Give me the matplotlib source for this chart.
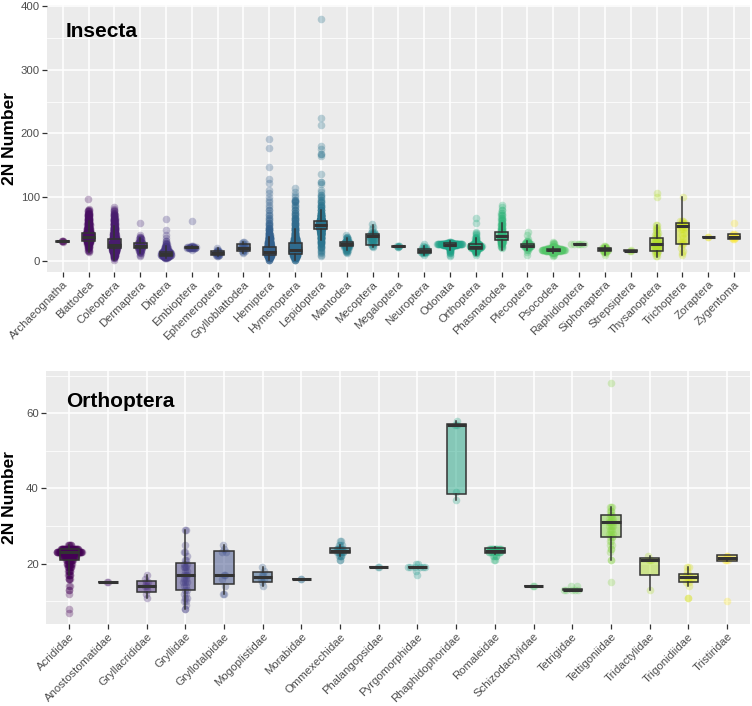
import numpy as np
import matplotlib
matplotlib.use("Agg")
import matplotlib.pyplot as plt

plt.rcParams['font.family'] = ['Liberation Sans', 'DejaVu Sans']

# ---------------- Insecta (orders) ----------------
insecta_orders = ["Archaeognatha", "Blattodea", "Coleoptera", "Dermaptera", "Diptera",
                  "Embioptera", "Ephemeroptera", "Grylloblattodea", "Hemiptera", "Hymenoptera",
                  "Lepidoptera", "Mantodea", "Mecoptera", "Megaloptera", "Neuroptera",
                  "Odonata", "Orthoptera", "Phasmatodea", "Plecoptera", "Psocodea",
                  "Raphidioptera", "Siphonaptera", "Strepsiptera", "Thysanoptera", "Trichoptera",
                  "Zoraptera", "Zygentoma"]

insecta_points = [
    {30: 1, 31: 3, 32: 1},
    {98: 1, 82: 1, 80: 2, 78: 3, 76: 3, 74: 4, 72: 4, 70: 5, 68: 4, 66: 5, 64: 5, 62: 5, 60: 6,
     58: 6, 56: 6, 54: 6, 52: 7, 50: 7, 48: 8, 46: 10, 44: 12, 42: 15, 40: 18, 38: 20, 36: 18,
     34: 15, 32: 12, 30: 8, 28: 6, 26: 5, 24: 4, 22: 3, 20: 3, 18: 2, 16: 2, 14: 1},
    {84: 1, 82: 1, 80: 1, 78: 2, 76: 2, 74: 2, 72: 3, 70: 3, 68: 3, 66: 4, 64: 4, 62: 5, 60: 5,
     58: 5, 56: 6, 54: 6, 52: 7, 50: 8, 48: 8, 46: 9, 44: 10, 42: 11, 40: 12, 38: 14, 36: 16,
     34: 18, 32: 20, 30: 22, 28: 25, 26: 28, 24: 30, 22: 30, 20: 28, 18: 22, 16: 18, 14: 14,
     12: 10, 10: 8, 8: 5, 6: 3, 4: 2, 2: 1},
    {60: 1, 40: 1, 38: 2, 36: 2, 34: 3, 32: 3, 30: 4, 28: 5, 26: 6, 24: 8, 22: 6, 20: 5, 18: 4,
     16: 3, 14: 2, 12: 2, 10: 1, 8: 1},
    {66: 1, 48: 1, 40: 1, 36: 1, 32: 2, 28: 2, 26: 3, 24: 4, 22: 5, 20: 7, 18: 8, 16: 10, 14: 14,
     12: 20, 10: 22, 8: 16, 6: 10, 4: 4},
    {62: 1, 24: 3, 22: 8, 21: 6, 20: 6, 18: 1},
    {20: 1, 18: 2, 16: 3, 14: 5, 12: 6, 10: 5, 8: 2},
    {30: 2, 28: 1, 26: 2, 24: 2, 22: 2, 20: 3, 18: 2, 16: 2, 14: 1, 12: 1},
    {192: 1, 178: 1, 148: 1, 128: 1, 122: 1, 112: 1, 106: 1, 100: 1, 96: 1, 92: 1, 88: 1, 84: 1,
     80: 2, 76: 1, 72: 2, 68: 2, 64: 2, 60: 3, 56: 3, 52: 4, 48: 5, 44: 6, 40: 8, 38: 8, 36: 10,
     34: 12, 32: 14, 30: 16, 28: 18, 26: 22, 24: 26, 22: 30, 20: 34, 18: 40, 16: 44, 14: 46,
     12: 40, 10: 32, 8: 22, 6: 14, 4: 8, 2: 4},
    {114: 1, 108: 1, 104: 1, 100: 1, 96: 2, 94: 2, 92: 2, 88: 2, 84: 2, 80: 3, 76: 3, 72: 3,
     68: 4, 64: 4, 60: 5, 56: 5, 52: 6, 48: 7, 44: 8, 40: 10, 36: 12, 34: 14, 32: 16, 30: 18,
     28: 20, 26: 24, 24: 28, 22: 30, 20: 32, 18: 34, 16: 34, 14: 32, 12: 28, 10: 24, 8: 18,
     6: 12, 4: 8, 2: 4},
    {380: 1, 224: 1, 214: 1, 180: 1, 176: 1, 168: 2, 164: 1, 137: 1, 124: 2, 120: 1, 112: 1,
     108: 1, 104: 2, 100: 2, 96: 2, 92: 3, 88: 3, 84: 4, 80: 5, 76: 6, 72: 8, 70: 9, 68: 10,
     66: 12, 64: 16, 62: 24, 60: 40, 58: 50, 56: 60, 54: 40, 52: 30, 50: 22, 48: 16, 46: 12,
     44: 10, 42: 8, 40: 7, 38: 6, 36: 5, 34: 4, 32: 4, 30: 3, 28: 3, 26: 2, 24: 2, 22: 2,
     20: 2, 18: 1, 16: 1, 14: 1, 12: 1, 10: 1, 8: 1},
    {40: 1, 38: 2, 36: 2, 34: 3, 32: 4, 30: 5, 28: 8, 26: 10, 24: 8, 22: 5, 20: 4, 18: 3,
     16: 2, 14: 2, 12: 1},
    {58: 1, 54: 1, 50: 1, 46: 2, 44: 2, 42: 3, 40: 4, 38: 4, 36: 3, 34: 2, 32: 2, 30: 2,
     28: 2, 26: 2, 24: 2, 22: 1},
    {24: 2, 23: 2, 22: 2},
    {26: 1, 24: 1, 22: 2, 20: 3, 18: 4, 16: 5, 14: 5, 12: 3, 10: 1},
    {30: 4, 28: 14, 27: 26, 26: 50, 25: 26, 24: 12, 22: 6, 20: 4, 18: 3, 16: 2, 14: 2, 12: 2,
     10: 1, 8: 1},
    {68: 1, 60: 1, 46: 1, 44: 1, 42: 1, 40: 1, 38: 2, 36: 2, 34: 3, 32: 3, 30: 4, 28: 6,
     26: 10, 25: 10, 24: 14, 23: 14, 22: 14, 21: 10, 20: 8, 18: 5, 16: 4, 14: 3, 12: 2, 10: 1},
    {88: 1, 84: 1, 80: 2, 76: 2, 72: 3, 68: 3, 64: 4, 60: 4, 56: 5, 52: 5, 48: 6, 44: 8,
     40: 10, 38: 10, 36: 10, 34: 8, 32: 6, 30: 5, 28: 4, 26: 3, 24: 2, 22: 2, 20: 1},
    {46: 1, 40: 1, 34: 1, 32: 2, 30: 3, 28: 4, 26: 8, 24: 10, 22: 6, 20: 3, 18: 2, 14: 1,
     10: 1},
    {30: 1, 28: 2, 26: 2, 24: 3, 22: 6, 20: 12, 19: 18, 18: 26, 17: 26, 16: 18, 14: 8,
     12: 4, 10: 2, 8: 1},
    {26: 4, 27: 2},
    {24: 2, 22: 3, 20: 5, 18: 6, 16: 5, 14: 2, 12: 1, 10: 1},
    {16: 2, 17: 1},
    {106: 1, 100: 1, 56: 2, 52: 2, 48: 2, 44: 2, 40: 3, 36: 3, 32: 4, 28: 4, 26: 5, 24: 5,
     20: 4, 16: 4, 12: 3, 8: 2},
    {100: 1, 62: 3, 60: 3, 58: 3, 56: 2, 54: 2, 50: 2, 44: 1, 40: 1, 36: 1, 30: 2, 26: 2,
     20: 1, 16: 1, 12: 1, 10: 1},
    {38: 2},
    {60: 1, 42: 2, 40: 2, 38: 2, 36: 2, 34: 2},
]

insecta_q1 = [30.5, 31.5, 20, 20.5, 8.5, 20.5, 9.5, 16, 9.5, 11, 50, 23.5, 25, 22.5, 12,
              23.5, 18.5, 33, 21.5, 15.6, 26, 15.6, 16, 15.6, 26.5, 38, 34]
insecta_med = [31, 38, 25, 24, 11, 21.5, 12, 21, 14.5, 17.5, 56, 26.5, 39, 23, 15,
               25.5, 22.5, 39.5, 24, 17, 26, 18.3, 16, 26.5, 55, 38, 38]
insecta_q3 = [31.5, 43.5, 34, 27.5, 14.5, 22.5, 15, 26, 22, 27.5, 62.5, 30, 42, 23.5, 18.5,
              28.5, 26.5, 45, 26.5, 18.3, 26.5, 20.8, 16.5, 36.4, 60, 38, 42]
insecta_lo = [30, 14, 2, 12, 4, 20, 8, 12, 2, 2, 33, 18, 22, 22, 10,
              18, 10, 17, 18, 12, 26, 10, 16, 7, 10, 38, 34]
insecta_hi = [32, 62, 55, 36, 23, 24, 20, 30, 38, 50, 80, 36, 56, 24, 24,
              32, 36, 60, 32, 22, 27, 24, 17, 56, 100, 38, 42]
# horizontal spread of the point cloud at its densest (style, in category widths)
insecta_spread = [0.05, 0.12, 0.1, 0.1, 0.2, 0.2, 0.1, 0.12, 0.1, 0.12, 0.07, 0.13, 0.13,
                  0.07, 0.15, 0.5, 0.25, 0.06, 0.15, 0.46, 0.4, 0.12, 0.05, 0.12, 0.12,
                  0.02, 0.1]

# ---------------- Orthoptera (families) ----------------
ortho_families = ["Acrididae", "Anostostomatidae", "Gryllacrididae", "Gryllidae",
                  "Gryllotalpidae", "Mogoplistidae", "Morabidae", "Ommexechidae",
                  "Phalangopsidae", "Pyrgomorphidae", "Rhaphidophoridae", "Romaleidae",
                  "Schizodactylidae", "Tetrigidae", "Tettigoniidae", "Tridactylidae",
                  "Trigonidiidae", "Tristiridae"]

ortho_points = [
    {25: 6, 24: 40, 23: 60, 22: 30, 21: 15, 20: 10, 19: 8, 18: 6, 17: 5, 16: 4, 14: 2, 13: 2,
     12: 1, 8: 1, 7: 1},
    {15: 2},
    {17: 1, 16: 1, 15: 2, 14: 2, 13: 1, 12: 1, 11: 1},
    {29: 2, 25: 1, 23: 2, 22: 1, 21: 2, 20: 2, 19: 3, 18: 2, 17: 3, 16: 2, 15: 3, 14: 2,
     13: 2, 12: 2, 11: 2, 10: 2, 9: 1, 8: 2},
    {25: 1, 24: 1, 23: 2, 17: 2, 16: 1, 14: 1, 12: 2},
    {19: 1, 18: 1, 17: 2, 16: 2, 15: 1, 14: 1},
    {16: 2},
    {26: 2, 25: 3, 24: 8, 23: 8, 22: 4, 21: 2},
    {19: 2},
    {20: 2, 19: 6, 18: 1, 17: 1},
    {58: 1, 57: 2, 39: 1, 37: 1},
    {24: 12, 23: 10, 22: 4, 21: 2},
    {14: 2},
    {14: 2, 13: 5},
    {68: 1, 35: 3, 34: 3, 33: 3, 32: 4, 31: 5, 30: 4, 29: 3, 28: 3, 27: 3, 26: 2, 25: 2,
     24: 2, 23: 1, 21: 2, 15: 1},
    {22: 1, 21: 2, 13: 1},
    {19: 2, 18: 1, 17: 2, 16: 2, 15: 2, 14: 1, 11: 2},
    {22: 2, 21: 3, 10: 1},
]

ortho_q1 = [21, 15, 12.4, 13, 14.5, 15.2, 16, 22.9, 19, 19, 38.5, 22.9, 14, 13, 27, 17, 15.1, 20.8]
ortho_med = [23, 15, 14, 17, 17, 16.5, 16, 23.5, 19, 19, 57, 23.5, 14, 13, 31, 21, 16.5, 21.6]
ortho_q3 = [24, 15, 15.5, 20.3, 23.5, 17.8, 16, 24.1, 19, 19, 57.2, 24.2, 14, 13.2, 33, 21.6, 17.3, 22.3]
ortho_lo = [17, 15, 11, 8, 12, 14, 16, 22, 19, 19, 37, 22.5, 14, 13, 21, 13, 14, 21]
ortho_hi = [25, 15, 17, 29, 25, 19, 16, 25, 19, 19, 58, 24.5, 14, 13.2, 35, 22, 19, 22.3]
ortho_spread = [0.33, 0.03, 0.05, 0.06, 0.06, 0.05, 0.03, 0.1, 0.03, 0.27, 0.05, 0.18,
                0.03, 0.3, 0.06, 0.05, 0.08, 0.06]


def vdc(i, base=2):
    r, denom = 0.0, 1.0
    while i > 0:
        i, rem = divmod(i, base)
        denom *= base
        r += rem / denom
    return r


def quasi_offsets(v, width):
    n = len(v)
    if n < 2:
        return np.zeros(n)
    sd = np.std(v, ddof=1)
    iqr = np.subtract(*np.percentile(v, [75, 25]))
    cand = [x for x in (sd, iqr / 1.34) if x > 0]
    bw = 0.9 * min(cand) * n ** -0.2 if cand else 1.0
    bw = max(bw, 0.5)
    d = np.exp(-0.5 * ((v[:, None] - v[None, :]) / bw) ** 2).sum(axis=1)
    d = d / d.max()
    return np.array([(2 * vdc(i + 1) - 1) * width * d[i] for i in range(n)])


def draw_panel(ax, cats, pts, q1, med, q3, lo, hi, spread, ylim, major, minor, title, tpos):
    n = len(cats)
    cmap = plt.get_cmap('viridis')
    cols = [cmap(i / (n - 1)) for i in range(n)]
    ax.set_facecolor('#EBEBEB')
    for i, (d, c) in enumerate(zip(pts, cols)):
        v = np.sort(np.array([val for val, cnt in d.items() for _ in range(cnt)], float))
        off = quasi_offsets(v, spread[i])
        ax.scatter(i + off, v, s=30, color=c, alpha=0.3, linewidths=0, zorder=3)
    stats = [dict(q1=a, med=b, q3=c, whislo=e, whishi=f, fliers=[])
             for a, b, c, e, f in zip(q1, med, q3, lo, hi)]
    bp = ax.bxp(stats, positions=list(range(n)), widths=0.5, patch_artist=True,
                showcaps=False, showfliers=False, manage_ticks=False, zorder=4,
                boxprops=dict(edgecolor='#333333', linewidth=1.1),
                medianprops=dict(color='#333333', linewidth=2.2, solid_capstyle='butt'),
                whiskerprops=dict(color='#333333', linewidth=1.1))
    for patch, c in zip(bp['boxes'], cols):
        patch.set_facecolor((c[0], c[1], c[2], 0.5))
    ax.set_xlim(-0.6, n - 0.4)
    ax.set_ylim(*ylim)
    ax.set_xticks(range(n))
    ax.set_xticklabels(cats, rotation=45, ha='right', va='top', rotation_mode='anchor',
                       fontsize=8.2)
    ax.set_yticks(major)
    ax.set_yticks(minor, minor=True)
    ax.tick_params(axis='both', which='major', color='#333333', labelcolor='#4D4D4D',
                   length=3.3, width=0.9, pad=2, labelsize=8.2)
    ax.tick_params(axis='y', which='minor', length=0)
    ax.grid(which='major', color='white', linewidth=1.1)
    ax.grid(which='minor', axis='y', color='white', linewidth=0.55)
    ax.set_axisbelow(True)
    for s in ax.spines.values():
        s.set_visible(False)
    ax.text(tpos[0], tpos[1], title, transform=ax.transAxes, fontsize=15,
            fontweight='bold', ha='left', va='baseline', color='black', zorder=6)


W, H = 752, 706
fig = plt.figure(figsize=(W / 100, H / 100), dpi=100)

ax1 = fig.add_axes([47.2 / W, (H - 272) / H, (749.5 - 47.2) / W, 267 / H])
draw_panel(ax1, insecta_orders, insecta_points, insecta_q1, insecta_med, insecta_q3,
           insecta_lo, insecta_hi, insecta_spread, (-17.3, 401.6), [0, 100, 200, 300, 400],
           [50, 150, 250, 350], "Insecta", (0.0268, 0.881))

ax2 = fig.add_axes([46.1 / W, (H - 624) / H, (750.2 - 46.1) / W, 253 / H])
draw_panel(ax2, ortho_families, ortho_points, ortho_q1, ortho_med, ortho_q3,
           ortho_lo, ortho_hi, ortho_spread, (3.96, 71.25), [20, 40, 60], [10, 30, 50, 70],
           "Orthoptera", (0.0283, 0.8565))

fig.text(9.5 / W, (H - 138.5) / H, "2N Number", rotation=90, ha='center', va='center',
         fontsize=12.5, fontweight='bold', color='black')
fig.text(9.5 / W, (H - 497.5) / H, "2N Number", rotation=90, ha='center', va='center',
         fontsize=12.5, fontweight='bold', color='black')

fig.savefig("out.png", dpi=100)
